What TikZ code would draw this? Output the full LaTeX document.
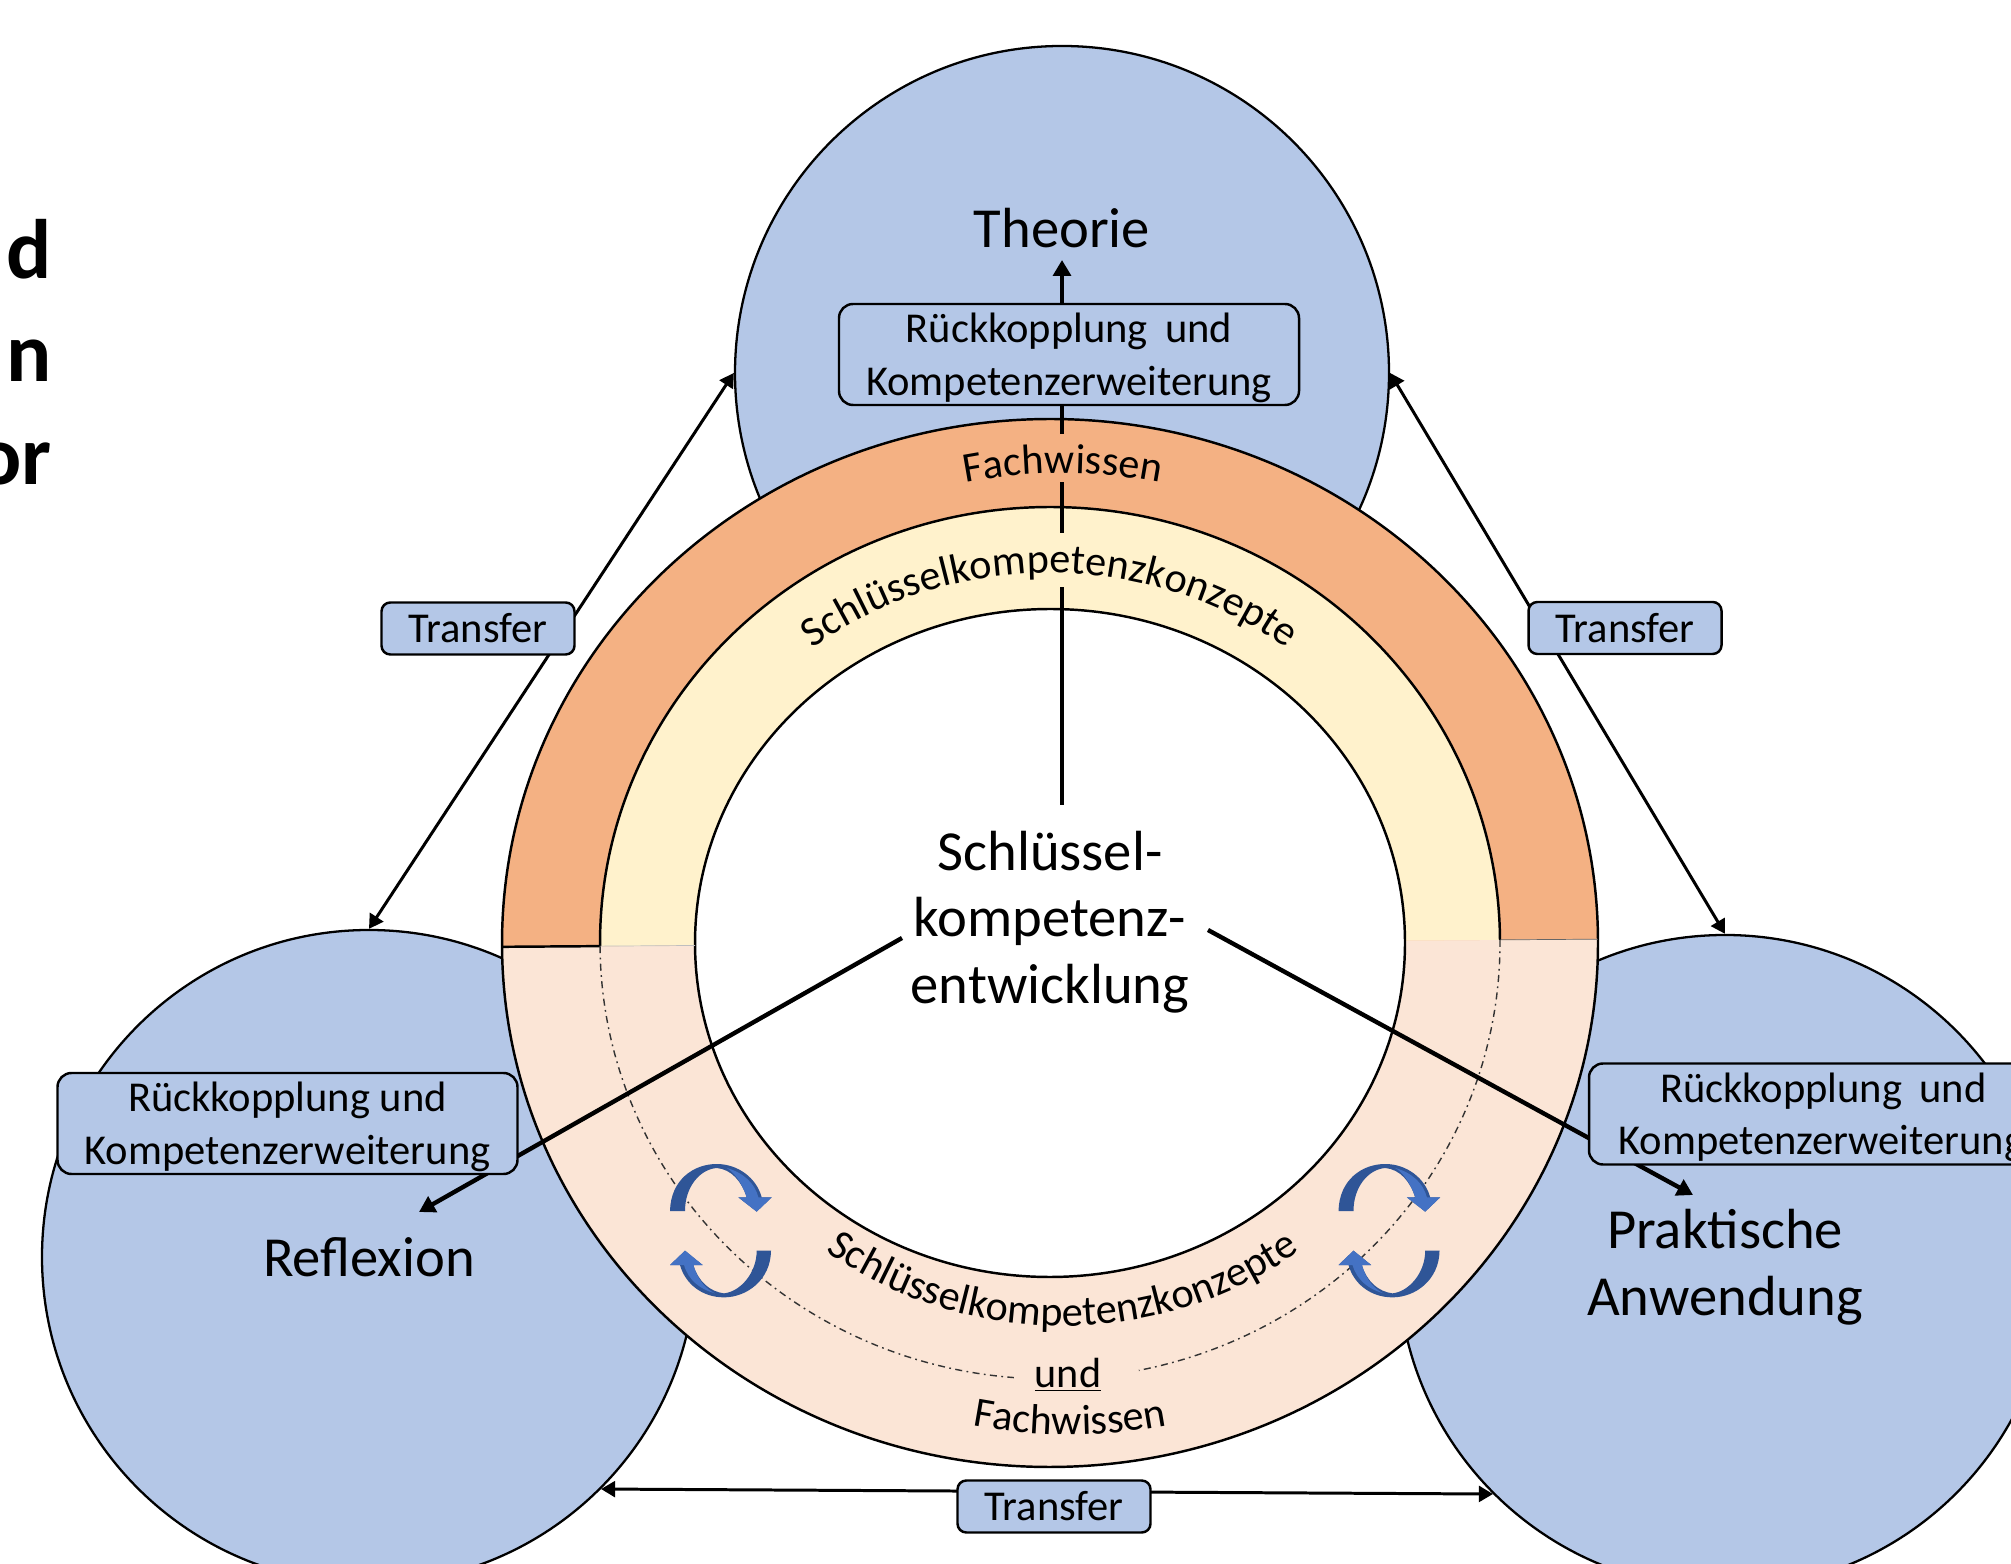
\documentclass[tikz,border=0pt]{standalone}
\usepackage{fontspec}
\setmainfont{Carlito}
\usetikzlibrary{arrows.meta,decorations.text}
\definecolor{bubblecol}{HTML}{B4C7E7}
\definecolor{fachcol}{HTML}{F4B183}
\definecolor{konzeptcol}{HTML}{FFF2CC}
\definecolor{palecol}{HTML}{FBE5D6}
\definecolor{swirldark}{HTML}{2F5597}
\definecolor{swirllight}{HTML}{4472C4}
\newcommand{\bigtext}{\fontsize{32.2}{38}\selectfont}
\newcommand{\smalltext}{\fontsize{24.2}{30}\selectfont}
\newcommand{\curvefont}{\fontsize{24}{30}\selectfont}
\newcommand{\feedline}[1]{\raisebox{-8.3pt}[0pt][0pt]{#1}}
\tikzset{
  bubble/.style={circle,draw=black,line width=1.3pt,fill=bubblecol,minimum size=13.08cm,inner sep=0pt},
  bigblock/.style={align=center,font=\bigtext,inner sep=0pt},
  fragment/.style={anchor=base east,inner sep=0pt,font=\fontsize{48}{58}\selectfont\bfseries},
  feedbox/.style={draw=black,line width=1.4pt,fill=bubblecol,rounded corners=8pt,align=center,font=\smalltext,minimum width=9.2cm,minimum height=2.02cm,inner sep=0pt},
  transferbox/.style={draw=black,line width=1.4pt,fill=bubblecol,rounded corners=5pt,font=\smalltext,minimum width=3.86cm,minimum height=1.04cm,inner sep=0pt},
  ringline/.style={line width=1.4pt},
  flowline/.style={line width=2.5pt},
  flowarrow/.style={line width=2.5pt,-{Triangle[width=10pt,length=9pt]}},
  transferline/.style={line width=1.7pt,{Triangle[width=9pt,length=8pt]}-{Triangle[width=9pt,length=8pt]}},
  dashring/.style={line width=.8pt,black!80,dash pattern=on 4pt off 2.5pt on 1pt off 2.5pt},
  curvetext/.style={decorate,decoration={text along path,text align=center,text={|\curvefont|#1}}},
  swirlpair/.pic={
    \begin{scope}[x=0.00667cm,y=-0.00667cm]
    \fill[swirldark] (60,213) .. controls (62,120) and (130,72) .. (200,72) .. controls (265,72) and (320,115) .. (335,172) -- (365,172) -- (320,215) -- (265,172) -- (290,172) .. controls (275,125) and (245,88) .. (200,84) .. controls (150,88) and (105,140) .. (105,213) -- cycle;
    \fill[swirllight] (230,84) .. controls (280,98) and (315,130) .. (325,172) -- (365,172) -- (320,215) -- (265,172) -- (290,172) .. controls (275,125) and (250,95) .. cycle;
    \fill[swirldark] (363,332) .. controls (362,420) and (290,472) .. (222,472) .. controls (155,472) and (105,430) .. (90,375) -- (60,375) -- (105,332) -- (158,375) -- (130,375) .. controls (145,425) and (180,455) .. (222,460) .. controls (270,455) and (320,400) .. (320,332) -- cycle;
    \fill[swirllight] (195,460) .. controls (150,448) and (115,420) .. (102,375) -- (60,375) -- (105,332) -- (158,375) -- (130,375) .. controls (145,425) and (170,448) .. cycle;
    \end{scope}
  }
}
\begin{document}
\begin{tikzpicture}
  \useasboundingbox (0,0) rectangle (40.22,31.26);
  \clip (0,0) rectangle (40.22,31.26);
  % cut off title on the left
  \node[fragment] (fragd) at (1.04,25.68) {d};
  \node[fragment] (fragn) at (1.04,23.62) {n};
  \node[fragment] (fragor) at (1.04,21.56) {or};
  % the three circles
  \node[bubble] (theorie) at (21.24,23.80) {};
  \node[bubble] (reflexion) at (7.38,6.12) {};
  \node[bubble] (praxis) at (34.50,6.02) {};
  % transfer arrows
  \draw[transferline] (theorie.west) -- (reflexion.north);
  \draw[transferline] (theorie.east) -- (praxis.north);
  \draw[transferline] (reflexion.-45) -- (praxis.-135);
  % ring
  \begin{scope}[rotate around={0.4:(21,12.40)}]
  \fill[palecol] (10.04,12.40) arc[start angle=180,end angle=360,x radius=10.96,y radius=10.48] -- cycle;
  \fill[fachcol] (10.04,12.40) arc[start angle=180,end angle=0,x radius=10.96,y radius=10.48] -- cycle;
  \fill[konzeptcol] (12.00,12.40) arc[start angle=180,end angle=0,x radius=9.0,y radius=8.72] -- cycle;
  \fill[white] (21,12.40) ellipse[x radius=7.1,y radius=6.68];
  \draw[ringline] (21,12.40) ellipse[x radius=10.96,y radius=10.48];
  \draw[ringline] (21,12.40) ellipse[x radius=7.1,y radius=6.68];
  \draw[ringline] (12.00,12.40) arc[start angle=180,end angle=0,x radius=9.0,y radius=8.72];
  \draw[ringline] (10.04,12.40) -- (12.00,12.40);
  \draw[black!60,thin] (30.00,12.40) -- (31.96,12.40);
  \draw[black!25,thin] (12.00,12.40) -- (13.9,12.40);
  \draw[dashring] (12.00,12.40) arc[start angle=180,end angle=265,x radius=9.0,y radius=8.72];
  \draw[dashring] (30.00,12.40) arc[start angle=0,end angle=-79,x radius=9.0,y radius=8.72];
  \end{scope}
  % lines from the middle
  \coordinate (upa) at (21.24,15.16);
  \coordinate (upb) at (21.24,19.52);
  \coordinate (upc) at (21.24,20.60);
  \coordinate (upd) at (21.24,21.62);
  \coordinate (upe) at (21.24,22.58);
  \coordinate (uptip) at (21.24,26.06);
  \coordinate (lefta) at (18.04,12.50);
  \coordinate (lefttip) at (8.38,7.02);
  \coordinate (righta) at (24.16,12.66);
  \coordinate (righttip) at (33.86,7.36);
  \draw[flowline] (upa) -- (upb);
  \draw[flowline] (upc) -- (upd);
  \draw[flowarrow] (upe) -- (uptip);
  \draw[flowarrow] (lefta) -- (lefttip);
  \draw[flowarrow] (righta) -- (righttip);
  % swirls
  \pic at (13.00,8.46) {swirlpair};
  \pic at (26.37,8.46) {swirlpair};
  % curved labels
  \path[curvetext=Fachwissen] (21.26,12.44) ++(120:9.8 and 9.35) arc[start angle=120,end angle=60,x radius=9.8,y radius=9.35];
  \path[curvetext=Schlüsselkompetenzkonzepte] (21,12.44) ++(135:7.82 and 7.36) arc[start angle=135,end angle=45,x radius=7.82,y radius=7.36];
  \path[curvetext=Schlüsselkompetenzkonzepte] (21.26,12.44) ++(210:8.0 and 7.70) arc[start angle=210,end angle=330,x radius=8.0,y radius=7.70];
  \path[curvetext=Fachwissen] (21.40,12.44) ++(240:10.1 and 9.87) arc[start angle=240,end angle=300,x radius=10.1,y radius=9.87];
  \node[font=\curvefont,inner sep=0pt] (und) at (21.36,3.77) {\underline{und}};
  % labels
  \node[bigblock] (theorielabel) at (21.24,26.70) {Theorie};
  \node[bigblock] (reflexionlabel) at (7.38,6.12) {Reflexion};
  \node[bigblock] (praxislabel) at (34.50,5.92) {Praktische\\Anwendung};
  \node[bigblock] (kern) at (21.00,12.82) {Schlüssel-\\kompetenz-\\entwicklung};
  % boxes
  \node[feedbox] (feedtop) at (21.38,24.17) {\feedline{Rückkopplung\hspace{.18em} und}\\\feedline{Kompetenzerweiterung}};
  \node[feedbox] (feedleft) at (5.75,8.79) {\feedline{Rückkopplung und}\\\feedline{Kompetenzerweiterung}};
  \node[feedbox] (feedright) at (36.38,8.98) {\feedline{\hspace{.2em}Rückkopplung\hspace{.18em} und}\\\feedline{\hspace{.1em}Kompetenzerweiterung}};
  \node[transferbox] (transleft) at (9.56,18.69) {Transfer};
  \node[transferbox] (transright) at (32.50,18.70) {Transfer};
  \node[transferbox] (transbottom) at (21.08,1.13) {Transfer};
\end{tikzpicture}
\end{document}
